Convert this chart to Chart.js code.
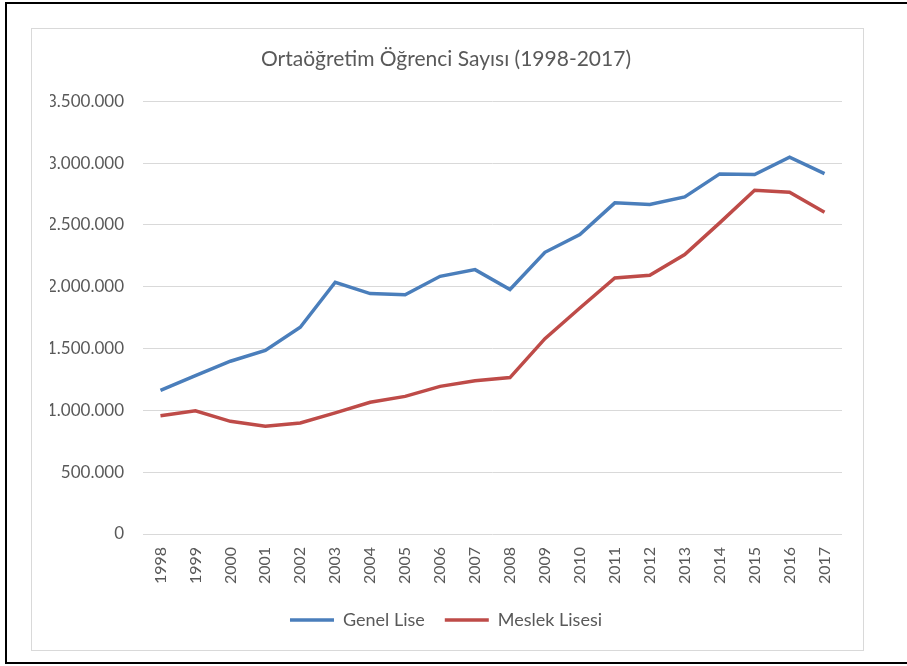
<!DOCTYPE html>
<html>
<head>
<meta charset="utf-8">
<script src="https://cdn.jsdelivr.net/npm/chart.js@4/dist/chart.umd.min.js"></script>
<style>
	html, body { margin: 0; padding: 0; background: #fff; overflow: hidden; }
	body { width: 907px; height: 666px; position: relative; }
	#frame { position: absolute; left: 5px; top: 2px; width: 910px; height: 658px; border: 2px solid #000; }
	#box { position: absolute; left: 31px; top: 28px; width: 831px; height: 621px; border: 1px solid #d9d9d9; }
	#box canvas { display: block; }
</style>
</head>
<body>
<div id="frame"></div>
<div id="box"><canvas id="chart" width="831" height="621"></canvas></div>
<script>
const years = ['1998', '1999', '2000', '2001', '2002', '2003', '2004', '2005', '2006', '2007',
	'2008', '2009', '2010', '2011', '2012', '2013', '2014', '2015', '2016', '2017'];

// Genel Lise
const genelLise = [1162000, 1281000, 1397000, 1485000, 1672000, 2036000, 1944000, 1934000, 2084000, 2138000,
	1977000, 2278000, 2422000, 2678000, 2664000, 2726000, 2912000, 2907000, 3047000, 2915000];

// Meslek Lisesi
const meslekLisesi = [957000, 997000, 911000, 871000, 898000, 979000, 1065000, 1113000, 1194000, 1240000,
	1265000, 1580000, 1828000, 2071000, 2092000, 2260000, 2516000, 2780000, 2764000, 2602000];

const yMax = 3500000;
const yStep = 500000;

const textColor = '#595959';
const fontFamily = 'Lato, "Open Sans", sans-serif';

function formatDots(v){
	return String(v).replace(/\B(?=(\d{3})+(?!\d))/g, '.');
}

new Chart(document.getElementById('chart'), {
	type: 'line',
	data: {
		labels: years,
		datasets: [{
			label: 'Genel Lise',
			data: genelLise,
			borderColor: '#4a7ebb',
			backgroundColor: '#4a7ebb',
			borderWidth: 3.5,
			pointRadius: 0,
			tension: 0
		}, {
			label: 'Meslek Lisesi',
			data: meslekLisesi,
			borderColor: '#be4b48',
			backgroundColor: '#be4b48',
			borderWidth: 3.5,
			pointRadius: 0,
			tension: 0
		}]
	},
	options: {
		responsive: false,
		animation: false,
		layout: { padding: { left: 18, right: 21, top: 0, bottom: 11 } },
		plugins: {
			title: {
				display: true,
				text: 'Ortaöğretim Öğrenci Sayısı (1998-2017)',
				color: textColor,
				font: { family: fontFamily, size: 21, weight: 'normal' },
				padding: { top: 18, bottom: 29 }
			},
			legend: {
				position: 'bottom',
				labels: {
					color: textColor,
					font: { family: fontFamily, size: 18 },
					usePointStyle: true,
					pointStyle: 'line',
					pointStyleWidth: 44,
					padding: 20
				}
			},
			tooltip: { enabled: false }
		},
		scales: {
			x: {
				offset: true,
				grid: { display: false, drawTicks: false },
				border: { display: false },
				ticks: {
					color: textColor,
					font: { family: fontFamily, size: 16 },
					minRotation: 90,
					maxRotation: 90,
					autoSkip: false,
					padding: 13
				},
				afterFit: scale => { scale.height = 57; }
			},
			y: {
				min: 0,
				max: yMax,
				grid: { color: '#d9d9d9', lineWidth: 1, drawTicks: false },
				border: { display: false },
				ticks: {
					stepSize: yStep,
					color: textColor,
					font: { family: fontFamily, size: 17 },
					padding: 19,
					callback: v => formatDots(v)
				},
				afterFit: scale => { scale.width = 93; }
			}
		}
	}
});
</script>
</body>
</html>
